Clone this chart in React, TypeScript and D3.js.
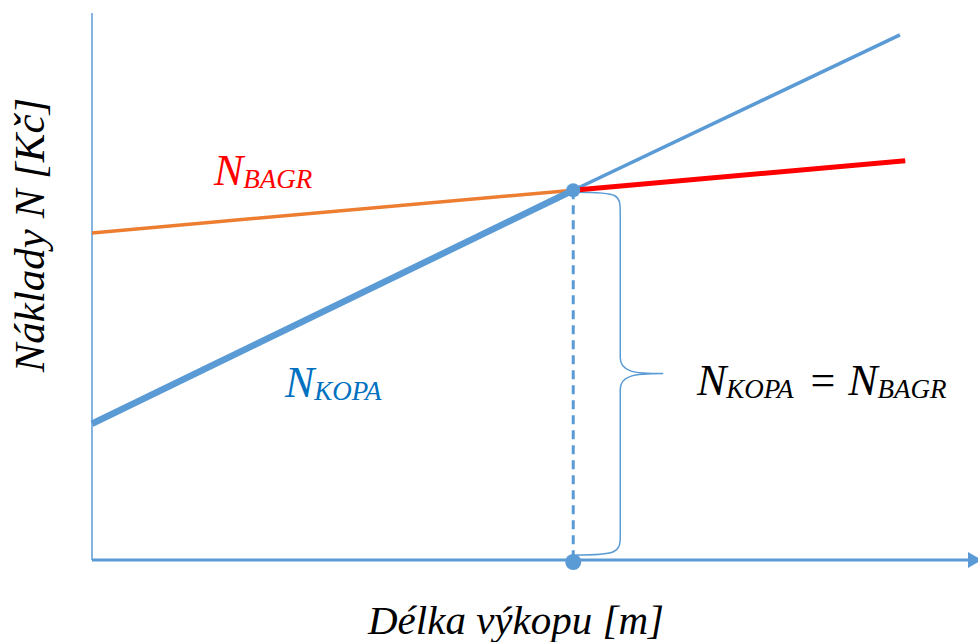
import React from "react";
import * as d3 from "d3";

const W = 978;
const H = 642;

// Data (abstract units)
const kopaX = [0, 54.5, 91.5];
const kopaY = [24.9, 67.6, 96.0];
const bagrX = [0, 54.5, 92.1];
const bagrY = [59.8, 67.6, 73.0];
const crossX = 54.5;
const crossY = 67.6;

const xLabel = "Délka výkopu [m]";
const yLabel = "Náklady N [Kč]";

const BLUE = "#5B9BD5";
const ORANGE = "#ED7D31";
const RED = "#FF0000";
const FONT = "'Liberation Serif', 'Times New Roman', serif";

export default function App() {
  const x = d3.scaleLinear().domain([0, 100]).range([92, 975]);
  const y = d3.scaleLinear().domain([0, 100]).range([560, 13]);
  const line = d3
    .line<[number, number]>()
    .x((d) => x(d[0]))
    .y((d) => y(d[1]));

  const kopaA: [number, number][] = [[kopaX[0], kopaY[0]], [kopaX[1], kopaY[1]]];
  const kopaB: [number, number][] = [[kopaX[1], kopaY[1]], [kopaX[2], kopaY[2]]];
  const bagrA: [number, number][] = [[bagrX[0], bagrY[0]], [bagrX[1], bagrY[1]]];
  const bagrB: [number, number][] = [[bagrX[1], bagrY[1]], [bagrX[2], bagrY[2]]];

  const cx = x(crossX);
  const cy = y(crossY);
  const by = y(0);

  // brace
  const bx0 = cx + 3;
  const top = cy + 2;
  const bot = by - 5;
  const mid = (top + bot) / 2 + 0;
  const bxl = cx + 47;
  const tipX = cx + 90;
  const brace = [
    `M${bx0},${top}`,
    `C${bxl},${top} ${bxl},${top + 2} ${bxl},${top + 22}`,
    `L${bxl},${mid - 16}`,
    `C${bxl},${mid - 2} ${tipX - 30},${mid} ${tipX},${mid}`,
    `C${tipX - 30},${mid} ${bxl},${mid + 2} ${bxl},${mid + 16}`,
    `L${bxl},${bot - 18}`,
    `C${bxl},${bot - 2} ${bxl - 5},${bot} ${bx0},${bot}`,
  ].join(" ");

  return (
    <svg
      width={W}
      height={H}
      style={{ position: "absolute", left: 0, top: 0, background: "#fff" }}
    >
      {/* axes */}
      <line x1={x(0)} y1={y(0)} x2={x(0)} y2={y(100)} stroke={BLUE} strokeWidth={1.5} />
      <line x1={x(0)} y1={y(0)} x2={970} y2={y(0)} stroke={BLUE} strokeWidth={3} />
      <path d={`M968,${y(0) - 8} L982,${y(0)} L968,${y(0) + 8} Z`} fill={BLUE} />

      {/* dashed */}
      <line x1={cx} y1={cy} x2={cx} y2={by} stroke={BLUE} strokeWidth={3} strokeDasharray="9,6" />

      {/* brace */}
      <path d={brace} fill="none" stroke={BLUE} strokeWidth={1.5} />

      {/* lines */}
      <path d={line(bagrA) || ""} fill="none" stroke={ORANGE} strokeWidth={3.5} />
      <path d={line(kopaA) || ""} fill="none" stroke={BLUE} strokeWidth={6.5} />
      <path d={line(kopaB) || ""} fill="none" stroke={BLUE} strokeWidth={3.5} />
      <path d={line(bagrB) || ""} fill="none" stroke={RED} strokeWidth={5} />

      <circle cx={cx} cy={cy} r={7} fill={BLUE} />
      <circle cx={cx} cy={by + 2} r={8} fill={BLUE} />

      {/* labels */}
      <text x={214} y={185} fill={RED} fontFamily={FONT} fontStyle="italic" fontSize={44}>
        N<tspan fontSize={27} dy={3}>BAGR</tspan>
      </text>
      <text x={285} y={397} fill="#0070C0" fontFamily={FONT} fontStyle="italic" fontSize={44}>
        N<tspan fontSize={27} dy={3}>KOPA</tspan>
      </text>
      <text x={697} y={395} fill="#000" fontFamily={FONT} fontStyle="italic" fontSize={44}>
        N<tspan fontSize={27} dy={3}>KOPA</tspan>
        <tspan fontSize={44} fontStyle="normal" dy={-3} dx={17}>=</tspan>
        <tspan dx={13}>N</tspan>
        <tspan fontSize={27} dy={3}>BAGR</tspan>
      </text>

      <text
        x={516}
        y={634}
        textAnchor="middle"
        fontFamily={FONT}
        fontStyle="italic"
        fontSize={41}
        fill="#000"
      >
        {xLabel}
      </text>
      <text
        transform="translate(44,235) rotate(-90)"
        textAnchor="middle"
        fontFamily={FONT}
        fontStyle="italic"
        fontSize={43}
        fill="#000"
      >
        {yLabel}
      </text>
    </svg>
  );
}
